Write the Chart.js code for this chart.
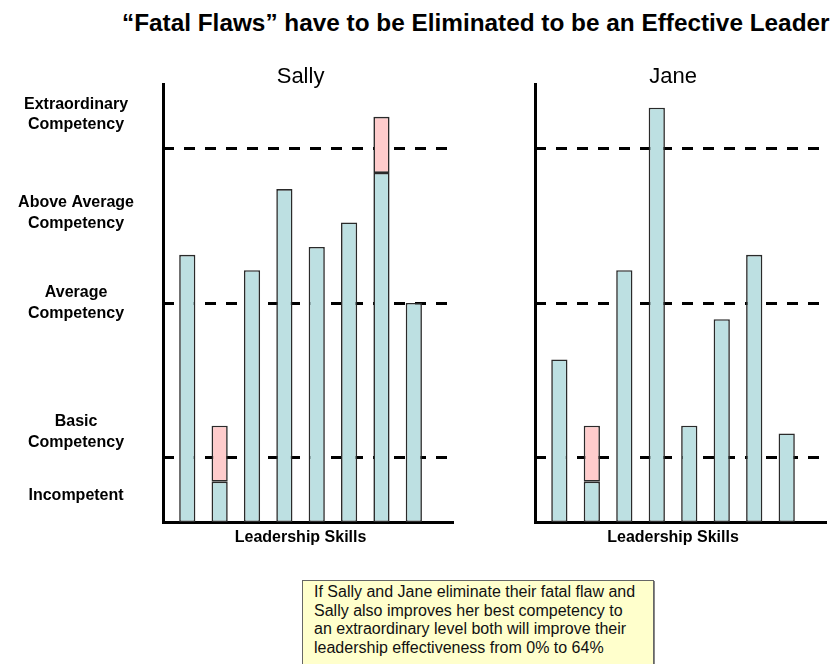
<!DOCTYPE html>
<html>
<head>
<meta charset="utf-8">
<script src="https://cdn.jsdelivr.net/npm/chart.js@4/dist/chart.umd.min.js"></script>
<style>
  html, body { margin: 0; padding: 0; background: #fff; }
  body { width: 834px; height: 664px; position: relative; overflow: hidden;
         font-family: "Liberation Sans", Arial, sans-serif; }
  #title { position: absolute; left: 122px; top: 11px; font-size: 24.35px; font-weight: bold;
           line-height: 24px; white-space: nowrap; color: #000; }
  #sallyWrap { position: absolute; left: 0; top: 0; }
  #janeWrap { position: absolute; left: 520px; top: 0; }
  #note { position: absolute; left: 302px; top: 580px; width: 339px; height: 120px;
          background: #ffffcc; border: 1px solid #666; box-shadow: 1px 1px 0 #888;
          padding: 2px 0 0 11px; font-size: 16px; line-height: 18.5px; color: #111; }
</style>
</head>
<body>
<div id="title">“Fatal Flaws” have to be Eliminated to be an Effective Leader</div>
<div id="sallyWrap"><canvas id="sally" width="470" height="560"></canvas></div>
<div id="janeWrap"><canvas id="jane" width="314" height="560"></canvas></div>
<div id="note">If Sally and Jane eliminate their fatal flaw and<br>Sally also improves her best competency to<br>an extraordinary level both will improve their<br>leadership effectiveness from 0% to 64%</div>

<script>
// Eight leadership skills per person, rated on a 0-100 competency scale
const skills = [0, 1, 2, 3, 4, 5, 6, 7];

const sallyCurrent = [61, 9.2, 57.5, 76, 62.8, 68.4, 79.7, 50];
const sallyGain    = [null, 12.8, null, null, null, null, 12.8, null];

const janeCurrent  = [37.1, 9.2, 57.5, 94.6, 22, 46.3, 61, 20.2];
const janeGain     = [null, 12.8, null, null, null, null, null, null];

// Thresholds between competency bands (dashed lines)
const thresholds = [14.8, 50, 85.3];

// Band names on the left axis and where they sit on the scale
const bandLabels = [
  'Incompetent',
  ['Basic', 'Competency'],
  ['Average', 'Competency'],
  ['Above Average', 'Competency'],
  ['Extraordinary', 'Competency']
];
const bandPositions = [6, 20.5, 50, 70.5, 93];

const FONT = '"Liberation Sans", Arial, sans-serif';
const TEAL = '#bde0e2';
const PINK = '#ffcccc';

function points(values) {
  return skills.map((s, i) => ({ x: s, y: values[i] }));
}

// Dashed band thresholds go over the current bars but under the gain bars;
// the panel name and axis caption are centred on the bar group.
const panelDecor = {
  id: 'panelDecor',
  beforeDatasetDraw(chart, args) {
    if (args.index !== 1) return;
    const { ctx, chartArea, scales } = chart;
    ctx.save();
    ctx.strokeStyle = '#000';
    ctx.lineWidth = 3;
    ctx.setLineDash([11, 10]);
    thresholds.forEach(v => {
      const y = Math.round(scales.y.getPixelForValue(v)) + 0.5;
      ctx.beginPath();
      ctx.moveTo(chartArea.left, y);
      ctx.lineTo(chartArea.right, y);
      ctx.stroke();
    });
    ctx.restore();
  },
  afterDraw(chart, args, opts) {
    const { ctx, scales } = chart;
    const cx = scales.x.getPixelForValue((skills[0] + skills[skills.length - 1]) / 2);
    ctx.save();
    ctx.fillStyle = '#000';
    ctx.textAlign = 'center';
    ctx.textBaseline = 'alphabetic';
    ctx.font = '22px ' + FONT;
    ctx.fillText(opts.name, cx, 83);
    ctx.font = 'bold 16px ' + FONT;
    ctx.fillText('Leadership Skills', cx, 542);
    ctx.restore();
  }
};

function makeChart(id, name, current, gain, showBands, padding, yWidth) {
  return new Chart(document.getElementById(id), {
    type: 'bar',
    data: {
      datasets: [
        { data: points(current), backgroundColor: TEAL, borderColor: '#2a2a2a',
          borderWidth: 1.6, borderSkipped: false },
        { data: points(gain), backgroundColor: PINK, borderColor: '#2a2a2a',
          borderWidth: 1.6, borderSkipped: false }
      ]
    },
    options: {
      responsive: false,
      animation: false,
      events: [],
      layout: { padding },
      datasets: { bar: { barPercentage: 0.5, categoryPercentage: 1 } },
      plugins: {
        legend: { display: false },
        tooltip: { enabled: false },
        panelDecor: { name }
      },
      scales: {
        x: {
          type: 'linear', stacked: true, min: -0.75, max: 8.21, offset: false,
          grid: { display: false },
          ticks: { display: false },
          border: { color: '#000', width: 3 },
          afterFit: s => { s.height = 0; s.paddingLeft = 0; s.paddingRight = 0; }
        },
        y: {
          stacked: true, min: 0, max: 100,
          grid: { display: false },
          border: { color: '#000', width: 3 },
          afterBuildTicks: s => { s.ticks = bandPositions.map(v => ({ value: v })); },
          ticks: {
            display: showBands,
            autoSkip: false,
            crossAlign: 'center',
            padding: 21,
            color: '#000',
            font: { family: FONT, size: 16, weight: 'bold', lineHeight: 1.3 },
            callback: (v, i) => bandLabels[i]
          },
          afterFit: s => { s.width = yWidth; s.paddingTop = 0; s.paddingBottom = 0; }
        }
      }
    },
    plugins: [panelDecor]
  });
}

makeChart('sally', 'Sally', sallyCurrent, sallyGain, true,
  { left: 0, top: 84, right: 17, bottom: 38 }, 163);
makeChart('jane', 'Jane', janeCurrent, janeGain, false,
  { left: 0, top: 84, right: 8, bottom: 38 }, 15);
</script>
</body>
</html>
